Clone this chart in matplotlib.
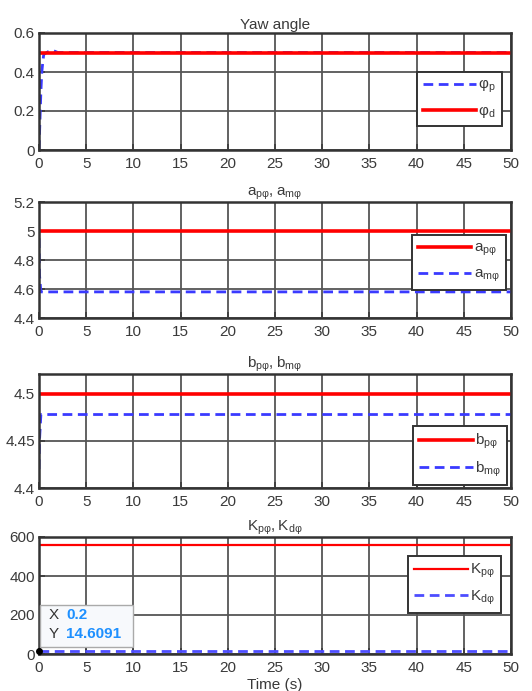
import matplotlib
matplotlib.use("Agg")
import matplotlib.pyplot as plt
from matplotlib.patches import Rectangle

plt.rcParams['font.family'] = ['Liberation Sans', 'DejaVu Sans']
plt.rcParams['mathtext.default'] = 'regular'

# ---- data ----
t_end = 50
t_phi_p = [0, 0.1, 0.2, 0.3, 0.4, 0.5, 1.0, 1.5, 2.0, 50]
phi_p = [0, 0.15, 0.3, 0.4, 0.45, 0.49, 0.505, 0.51, 0.5, 0.5]
t_const = [0, 50]
phi_d = [0.5, 0.5]

a_p = [5.0, 5.0]
t_a_m = [0, 0.05, 0.2, 50]
a_m = [4.95, 4.70, 4.58, 4.58]

b_p = [4.5, 4.5]
t_b_m = [0, 0.05, 0.2, 50]
b_m = [4.42, 4.45, 4.478, 4.478]

K_p = [560, 560]
K_d = [14.6091, 14.6091]
tip_x, tip_y = 0.2, 14.6091

xticks = list(range(0, 51, 5))

W, H = 532, 691
fig = plt.figure(figsize=(W / 100, H / 100), dpi=100)

def px_axes(l, r, top, bot):
    return fig.add_axes([l / W, 1 - bot / H, (r - l) / W, (bot - top) / H])

txtc = '#3a3a3a'
gridc = '#555555'

def style(ax, ylim, yticks, yticklabels):
    ax.set_xlim(0, t_end)
    ax.set_ylim(*ylim)
    ax.set_xticks(xticks)
    ax.set_yticks(yticks)
    ax.set_yticklabels(yticklabels)
    ax.grid(True, color=gridc, linewidth=1.3)
    ax.set_axisbelow(True)
    for s in ax.spines.values():
        s.set_linewidth(1.8)
        s.set_color('#333333')
    ax.tick_params(direction='in', length=4, width=1.2, labelsize=11,
                   colors=txtc)
    ax.tick_params(axis='x', pad=5)
    ax.tick_params(axis='y', pad=3)

red = '#ff0000'
blue = '#3a3aff'
dsh = (3.5, 2.0)

ax1 = px_axes(39, 511, 33, 150)
ax1.plot(t_phi_p, phi_p, '--', color=blue, lw=2.0, dashes=dsh, label=r'$\varphi_p$')
ax1.plot(t_const, phi_d, '-', color=red, lw=2.6, label=r'$\varphi_d$')
style(ax1, (0, 0.6), [0, 0.2, 0.4, 0.6], ['0', '0.2', '0.4', '0.6'])
ax1.set_title('Yaw angle', fontsize=11, color=txtc, pad=3)

ax2 = px_axes(39, 511, 202, 318)
ax2.plot(t_const, a_p, '-', color=red, lw=2.6, label=r'$a_{p\varphi}$')
ax2.plot(t_a_m, a_m, '--', color=blue, lw=2.0, dashes=dsh, label=r'$a_{m\varphi}$')
style(ax2, (4.4, 5.2), [4.4, 4.6, 4.8, 5.0, 5.2], ['4.4', '4.6', '4.8', '5', '5.2'])
ax2.set_title(r'$a_{p\varphi}, a_{m\varphi}$', fontsize=11, color=txtc, pad=3)

ax3 = px_axes(39, 511, 374, 488)
ax3.plot(t_const, b_p, '-', color=red, lw=2.6, label=r'$b_{p\varphi}$')
ax3.plot(t_b_m, b_m, '--', color=blue, lw=2.0, dashes=dsh, label=r'$b_{m\varphi}$')
style(ax3, (4.4, 4.521), [4.4, 4.45, 4.5], ['4.4', '4.45', '4.5'])
ax3.set_title(r'$b_{p\varphi}, b_{m\varphi}$', fontsize=11, color=txtc, pad=3)

ax4 = px_axes(39, 511, 537, 654)
ax4.plot(t_const, K_p, '-', color=red, lw=1.6, label=r'$K_{p\varphi}$')
ax4.plot(t_const, K_d, '--', color='#4d4dff', lw=2.0, dashes=dsh, label=r'$K_{d\varphi}$')
style(ax4, (0, 600), [0, 200, 400, 600], ['0', '200', '400', '600'])
ax4.set_title(r'$K_{p\varphi}, K_{d\varphi}$', fontsize=11, color=txtc, pad=3)
ax4.set_xlabel('Time (s)', fontsize=11, color=txtc, labelpad=2)
ax4.plot([0], [tip_y], 'o', color='black', ms=4, zorder=6, clip_on=False)

# datatip
tr = ax4.transAxes
ax4.add_patch(Rectangle((0.003, 0.06), 0.196, 0.36, transform=tr,
                        facecolor='#f7f9fc', edgecolor='#aaaaaa', lw=1.0, zorder=5))
ax4.text(0.02, 0.33, 'X', transform=tr, fontsize=11, color='#333333', va='center', zorder=7)
ax4.text(0.057, 0.33, f'{tip_x}', transform=tr, fontsize=11, color='#1e90ff',
         fontweight='bold', va='center', zorder=7)
ax4.text(0.02, 0.17, 'Y', transform=tr, fontsize=11, color='#333333', va='center', zorder=7)
ax4.text(0.057, 0.17, f'{tip_y}', transform=tr, fontsize=11, color='#1e90ff',
         fontweight='bold', va='center', zorder=7)

def legend(ax, x, y):
    lg = ax.legend(loc='upper right', bbox_to_anchor=(x, y), fontsize=11,
                   handlelength=3.5, frameon=True, fancybox=False, framealpha=1,
                   edgecolor='#333333', borderpad=0.4, labelspacing=0.55,
                   handletextpad=0.15, borderaxespad=0)
    lg.get_frame().set_linewidth(1.4)
    for t in lg.get_texts():
        t.set_color(txtc)
    return lg

legend(ax1, 0.981, 0.667)
legend(ax2, 0.989, 0.716)
legend(ax3, 0.992, 0.544)
legend(ax4, 0.979, 0.838)

fig.savefig('out.png', dpi=100)
